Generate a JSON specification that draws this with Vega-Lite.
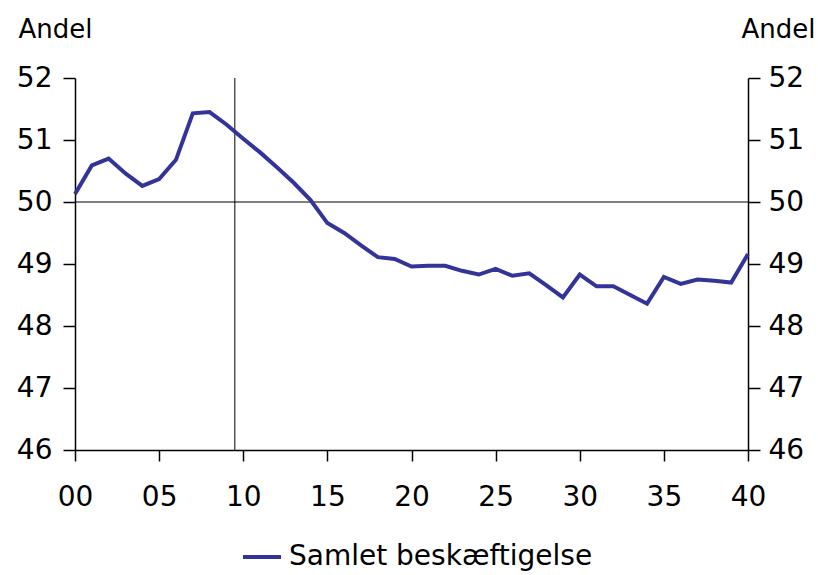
{
  "$schema": "https://vega.github.io/schema/vega-lite/v6.json",
  "width": 673,
  "height": 372,
  "autosize": {"type": "none"},
  "padding": {"left": 75, "top": 78, "right": 70, "bottom": 125},
  "background": "white",
  "config": {
    "view": {"stroke": null},
    "font": "DejaVu Sans",
    "axis": {"labelFont": "DejaVu Sans", "titleFont": "DejaVu Sans", "labelColor": "black", "titleColor": "black", "domainColor": "black", "tickColor": "black", "grid": false}
  },
  "datasets": {
    "main": [
      {"year": 0, "value": 50.13, "series": "Samlet beskæftigelse"},
      {"year": 1, "value": 50.59, "series": "Samlet beskæftigelse"},
      {"year": 2, "value": 50.70, "series": "Samlet beskæftigelse"},
      {"year": 3, "value": 50.46, "series": "Samlet beskæftigelse"},
      {"year": 4, "value": 50.26, "series": "Samlet beskæftigelse"},
      {"year": 5, "value": 50.37, "series": "Samlet beskæftigelse"},
      {"year": 6, "value": 50.68, "series": "Samlet beskæftigelse"},
      {"year": 7, "value": 51.43, "series": "Samlet beskæftigelse"},
      {"year": 8, "value": 51.45, "series": "Samlet beskæftigelse"},
      {"year": 9, "value": 51.25, "series": "Samlet beskæftigelse"},
      {"year": 10, "value": 51.02, "series": "Samlet beskæftigelse"},
      {"year": 11, "value": 50.80, "series": "Samlet beskæftigelse"},
      {"year": 12, "value": 50.56, "series": "Samlet beskæftigelse"},
      {"year": 13, "value": 50.31, "series": "Samlet beskæftigelse"},
      {"year": 14, "value": 50.03, "series": "Samlet beskæftigelse"},
      {"year": 15, "value": 49.66, "series": "Samlet beskæftigelse"},
      {"year": 16, "value": 49.50, "series": "Samlet beskæftigelse"},
      {"year": 17, "value": 49.30, "series": "Samlet beskæftigelse"},
      {"year": 18, "value": 49.11, "series": "Samlet beskæftigelse"},
      {"year": 19, "value": 49.08, "series": "Samlet beskæftigelse"},
      {"year": 20, "value": 48.96, "series": "Samlet beskæftigelse"},
      {"year": 21, "value": 48.97, "series": "Samlet beskæftigelse"},
      {"year": 22, "value": 48.97, "series": "Samlet beskæftigelse"},
      {"year": 23, "value": 48.89, "series": "Samlet beskæftigelse"},
      {"year": 24, "value": 48.83, "series": "Samlet beskæftigelse"},
      {"year": 25, "value": 48.92, "series": "Samlet beskæftigelse"},
      {"year": 26, "value": 48.81, "series": "Samlet beskæftigelse"},
      {"year": 27, "value": 48.85, "series": "Samlet beskæftigelse"},
      {"year": 28, "value": 48.66, "series": "Samlet beskæftigelse"},
      {"year": 29, "value": 48.46, "series": "Samlet beskæftigelse"},
      {"year": 30, "value": 48.83, "series": "Samlet beskæftigelse"},
      {"year": 31, "value": 48.64, "series": "Samlet beskæftigelse"},
      {"year": 32, "value": 48.64, "series": "Samlet beskæftigelse"},
      {"year": 33, "value": 48.50, "series": "Samlet beskæftigelse"},
      {"year": 34, "value": 48.36, "series": "Samlet beskæftigelse"},
      {"year": 35, "value": 48.79, "series": "Samlet beskæftigelse"},
      {"year": 36, "value": 48.68, "series": "Samlet beskæftigelse"},
      {"year": 37, "value": 48.75, "series": "Samlet beskæftigelse"},
      {"year": 38, "value": 48.73, "series": "Samlet beskæftigelse"},
      {"year": 39, "value": 48.70, "series": "Samlet beskæftigelse"},
      {"year": 40, "value": 49.16, "series": "Samlet beskæftigelse"}
    ],
    "hrule": [{"value": 50}],
    "vrule": [{"year": 9.5}]
  },
  "resolve": {"axis": {"y": "independent"}},
  "layer": [
    {
      "data": {"name": "hrule"},
      "mark": {"type": "rule", "color": "black", "strokeWidth": 1.2},
      "encoding": {
        "y": {"field": "value", "type": "quantitative", "scale": {"domain": [46, 52], "nice": false, "zero": false},
          "axis": {"orient": "left", "values": [46, 47, 48, 49, 50, 51, 52], "labelFontSize": 28, "tickSize": 12, "labelPadding": 11, "domainWidth": 1.5, "tickWidth": 1.5,
            "title": "Andel", "titleFontSize": 26, "titleFontWeight": "normal", "titleAngle": 0, "titleAlign": "left", "titleBaseline": "alphabetic", "titleX": -57, "titleY": -41}}
      }
    },
    {
      "data": {"name": "vrule"},
      "mark": {"type": "rule", "color": "black", "strokeWidth": 1},
      "encoding": {
        "x": {"field": "year", "type": "quantitative"}
      }
    },
    {
      "data": {"name": "main"},
      "mark": {"type": "line", "strokeWidth": 4},
      "encoding": {
        "x": {"field": "year", "type": "quantitative", "scale": {"domain": [0, 40], "nice": false},
          "axis": {"values": [0, 5, 10, 15, 20, 25, 30, 35, 40], "labelExpr": "datum.value < 10 ? '0' + datum.value : '' + datum.value", "labelFontSize": 28, "tickSize": 11, "labelPadding": 22, "domainWidth": 1.5, "tickWidth": 1.5, "title": null, "labelFlush": false}},
        "y": {"field": "value", "type": "quantitative", "scale": {"domain": [46, 52], "nice": false, "zero": false},
          "axis": {"orient": "right", "values": [46, 47, 48, 49, 50, 51, 52], "labelFontSize": 28, "tickSize": 12, "labelPadding": 8, "domainWidth": 1.5, "tickWidth": 1.5,
            "title": "Andel", "titleFontSize": 26, "titleFontWeight": "normal", "titleAngle": 0, "titleAlign": "left", "titleBaseline": "alphabetic", "titleX": -7, "titleY": -41}},
        "color": {"field": "series", "type": "nominal", "scale": {"range": ["#333399"]},
          "legend": {"title": null, "orient": "none", "legendX": 166, "legendY": 458, "symbolType": "stroke", "symbolSize": 1444, "symbolStrokeWidth": 4, "labelFontSize": 28, "labelFont": "DejaVu Sans", "labelColor": "black", "labelLimit": 0, "labelOffset": 6}}
      }
    }
  ]
}
